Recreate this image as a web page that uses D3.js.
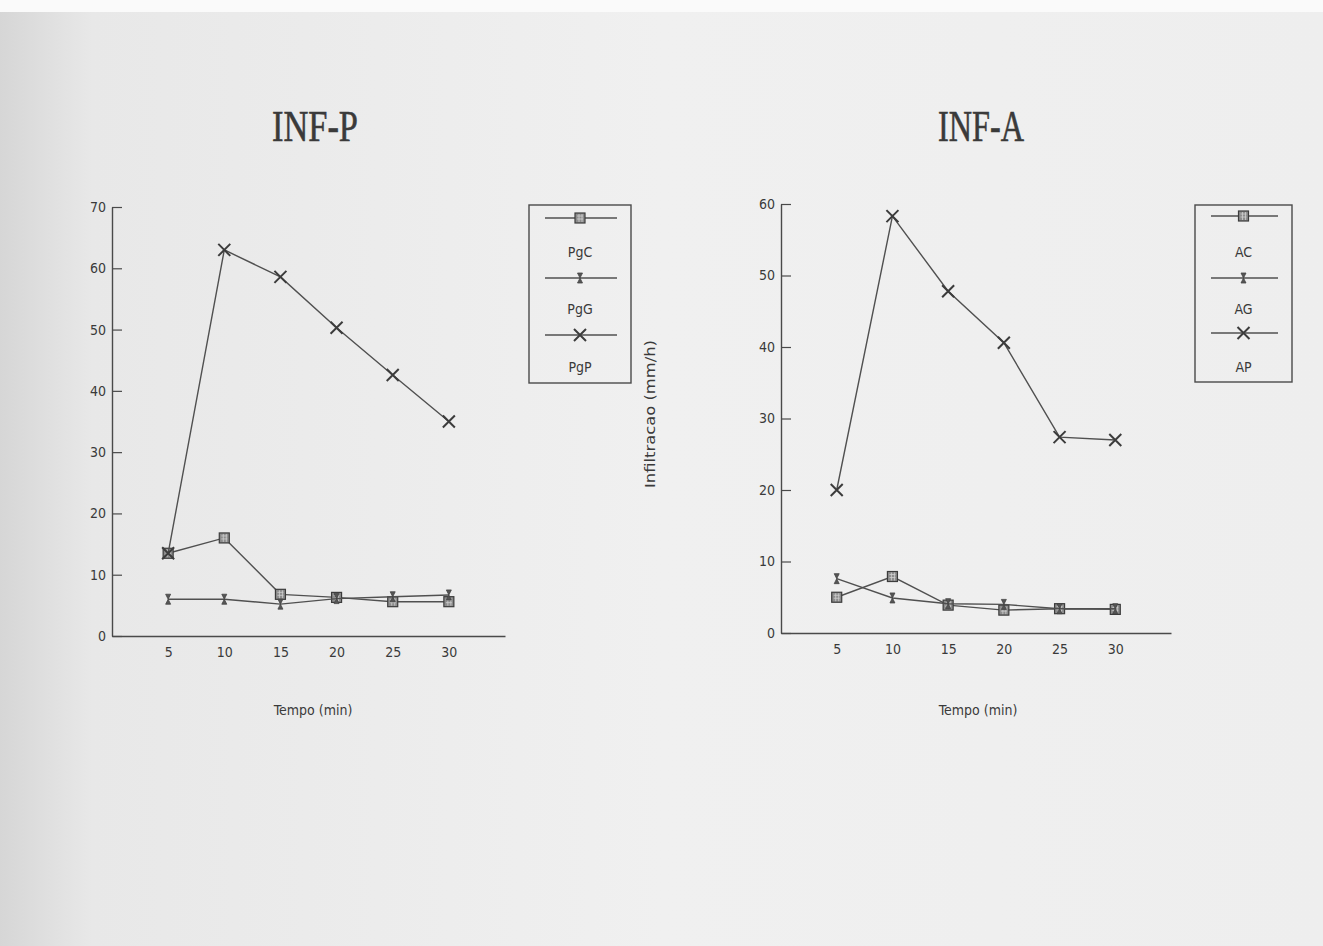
<!DOCTYPE html>
<html><head><meta charset="utf-8">
<script src="https://cdn.jsdelivr.net/npm/d3@7"></script>
<style>html,body{margin:0;padding:0;background:#eeeeee;}svg{display:block;}</style>
</head><body>
<svg id="c" width="1323" height="946"></svg>
<script>
// ---- data ----
const times = [5, 10, 15, 20, 25, 30];
const xTicks = [5, 10, 15, 20, 25, 30];
const yTicksP = [0, 10, 20, 30, 40, 50, 60, 70];
const yTicksA = [0, 10, 20, 30, 40, 50, 60];
const yTickLabelsP = ["0", "10", "20", "30", "40", "50", "60", "70"];
const yTickLabelsA = ["0", "10", "20", "30", "40", "50", "60"];
const pgC = [13.5, 16.0, 6.8, 6.3, 5.6, 5.6];
const pgG = [6.0, 6.0, 5.2, 6.1, 6.4, 6.7];
const pgP = [13.5, 63.0, 58.6, 50.3, 42.6, 35.0];
const aC = [5.0, 7.9, 3.9, 3.2, 3.4, 3.3];
const aG = [7.6, 4.9, 4.1, 4.0, 3.4, 3.4];
const aP = [20.0, 58.3, 47.8, 40.6, 27.4, 27.0];
const namesP = ["PgC", "PgG", "PgP"];
const namesA = ["AC", "AG", "AP"];
const titles = ["INF-P", "INF-A"];
const xLabel = "Tempo (min)";
const yLabel = "Infiltracao (mm/h)";

const svg = d3.select("#c");
const ink = "#4a4a4a";
const tickFont = "'DejaVu Sans Condensed','Liberation Sans Narrow',sans-serif";

// scanned paper background
const defs = svg.append("defs");
const g1 = defs.append("linearGradient").attr("id", "bg").attr("x1", 0).attr("x2", 1).attr("y1", 0).attr("y2", 0);
g1.append("stop").attr("offset", 0).attr("stop-color", "#d6d6d6");
g1.append("stop").attr("offset", 0.07).attr("stop-color", "#e8e8e8");
g1.append("stop").attr("offset", 0.5).attr("stop-color", "#f0f0f0");
g1.append("stop").attr("offset", 1).attr("stop-color", "#eeeeee");
svg.append("rect").attr("width", 1323).attr("height", 946).attr("fill", "url(#bg)");
svg.append("rect").attr("width", 1323).attr("height", 12).attr("fill", "#fafafa");

function marker(sel, kind) {
  if (kind === 0) {
    sel.append("rect").attr("x", -5).attr("y", -5).attr("width", 10).attr("height", 10)
      .attr("fill", "#8c8c8c").attr("stroke", "#3c3c3c").attr("stroke-width", 1.2);
    sel.append("path").attr("d", "M-3,-2H3M-3,1H3M-1,-4V4M2,-4V4").attr("stroke", "#cfcfcf").attr("stroke-width", 0.8);
  } else if (kind === 1) {
    sel.append("path").attr("d", "M-2.5,-5L2.5,-5L0,0ZM-2.5,5L2.5,5L0,0Z")
      .attr("fill", "#555").attr("stroke", "#444").attr("stroke-width", 0.8);
  } else {
    sel.append("path").attr("d", "M-6,-6L6,6M-6,6L6,-6").attr("stroke", "#3c3c3c").attr("stroke-width", 2);
  }
}

function panel(cfg) {
  const x = d3.scaleLinear().domain([0, 35]).range(cfg.xr);
  const y = d3.scaleLinear().domain([0, cfg.ymax]).range(cfg.yr);
  const g = svg.append("g");

  const ya = d3.axisLeft(y).tickValues(cfg.yTicks).tickFormat((d, i) => cfg.yLabels[i])
    .tickSizeInner(-10).tickSizeOuter(0).tickPadding(6);
  const yg = g.append("g").attr("transform", `translate(${cfg.xr[0]},0)`).call(ya);
  const xa = d3.axisBottom(x).tickValues(xTicks).tickSizeInner(0).tickSizeOuter(0).tickPadding(11);
  const xg = g.append("g").attr("transform", `translate(0,${cfg.yr[0]})`).call(xa);
  [yg, xg].forEach(a => {
    a.select(".domain").attr("stroke", ink).attr("stroke-width", 1.4);
    a.selectAll(".tick line").attr("stroke", ink).attr("stroke-width", 1.2);
    a.selectAll("text").attr("fill", "#3a3a3a").style("font-family", tickFont).style("font-size", "14px");
  });

  const line = d3.line().x((d, i) => x(times[i])).y(d => y(d));
  cfg.series.forEach((s, k) => {
    g.append("path").datum(s).attr("d", line).attr("fill", "none")
      .attr("stroke", "#505050").attr("stroke-width", 1.4);
    s.forEach((v, i) => {
      const m = g.append("g").attr("transform", `translate(${x(times[i])},${y(v)})`);
      marker(m, k);
    });
  });

  g.append("text").attr("x", cfg.titleX).attr("y", 141).attr("text-anchor", "middle")
    .attr("textLength", 86).attr("lengthAdjust", "spacingAndGlyphs")
    .style("font-family", "'Liberation Serif','DejaVu Serif',serif").style("font-size", "45px")
    .attr("fill", "#3a3a3a").attr("stroke", "#3a3a3a").attr("stroke-width", 0.6).text(cfg.title);

  g.append("text").attr("x", cfg.xlabX).attr("y", 715).attr("text-anchor", "middle")
    .style("font-family", tickFont).style("font-size", "14px").attr("fill", "#3a3a3a").text(xLabel);

  const L = cfg.leg;
  g.append("rect").attr("x", L.x).attr("y", L.y).attr("width", L.w).attr("height", L.h)
    .attr("fill", "none").attr("stroke", "#4a4a4a").attr("stroke-width", 1.4);
  cfg.names.forEach((n, k) => {
    const ly = L.lineY[k];
    g.append("line").attr("x1", L.x + 16).attr("x2", L.x + L.w - 14).attr("y1", ly).attr("y2", ly)
      .attr("stroke", "#505050").attr("stroke-width", 1.3);
    marker(g.append("g").attr("transform", `translate(${L.x + L.w / 2},${ly})`), k);
    g.append("text").attr("x", L.x + L.w / 2).attr("y", L.textY[k]).attr("text-anchor", "middle")
      .style("font-family", tickFont).style("font-size", "14px").attr("fill", "#3a3a3a").text(n);
  });
}

panel({xr: [112, 505], yr: [636, 207], ymax: 70, yTicks: yTicksP, yLabels: yTickLabelsP,
  series: [pgC, pgG, pgP], names: namesP, title: titles[0], titleX: 315, xlabX: 313,
  leg: {x: 529, y: 205, w: 102, h: 178, lineY: [218, 278, 335], textY: [257, 314, 372]}});
panel({xr: [781, 1171], yr: [633, 204], ymax: 60, yTicks: yTicksA, yLabels: yTickLabelsA,
  series: [aC, aG, aP], names: namesA, title: titles[1], titleX: 981, xlabX: 978,
  leg: {x: 1195, y: 205, w: 97, h: 177, lineY: [216, 278, 333], textY: [257, 314, 372]}});

svg.append("text").attr("transform", "translate(655,414) rotate(-90)").attr("text-anchor", "middle")
  .attr("textLength", 148).attr("lengthAdjust", "spacingAndGlyphs")
  .style("font-family", tickFont).style("font-size", "14px").attr("fill", "#3a3a3a").text(yLabel);
</script>
</body></html>
